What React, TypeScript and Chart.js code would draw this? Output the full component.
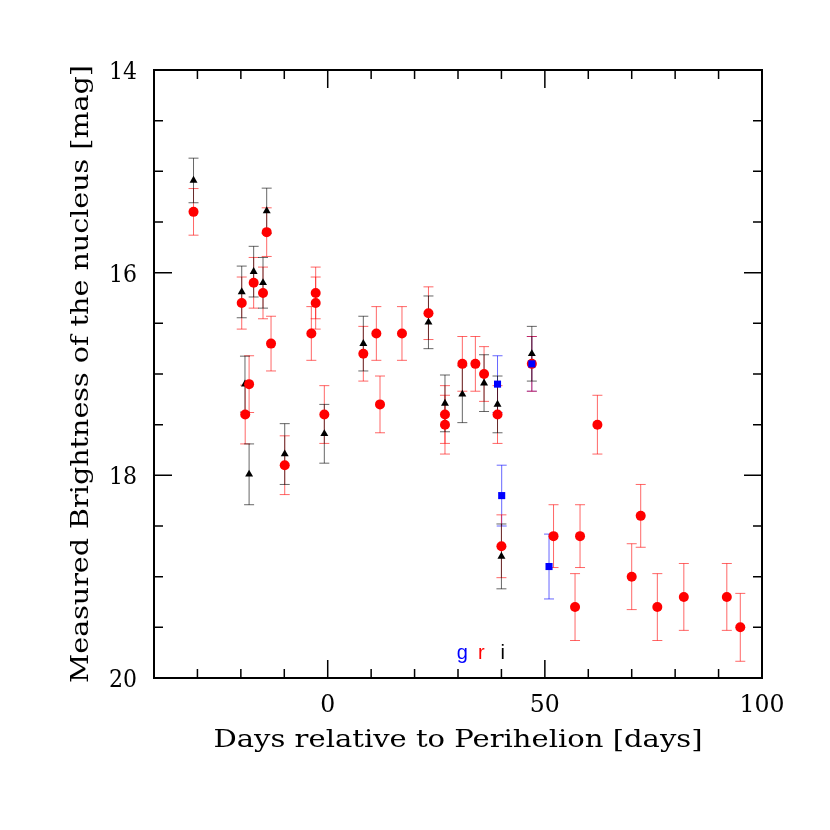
import React, { useEffect, useRef } from 'react';
import { Chart, registerables } from 'chart.js';

Chart.register(...registerables);

// i-band (black triangles)
const iDays = [-30.9, -14.05, -19.8, -17.05, -14.9, -19.05, -18.1, -9.9, -0.78, 8.2, 23.2, 27.0, 31.0, 36.0, 39.1, 47.0, 40.0];
const iMag = [15.09, 15.39, 16.19, 15.99, 16.10, 17.10, 17.99, 17.79, 17.59, 16.70, 16.49, 17.29, 17.20, 17.09, 17.30, 16.80, 18.80];
const iErr = [0.22, 0.224, 0.255, 0.25, 0.25, 0.276, 0.30, 0.30, 0.29, 0.27, 0.26, 0.28, 0.28, 0.28, 0.28, 0.27, 0.32];

// r-band (red circles)
const rDays = [-30.9, -14.05, -19.8, -17.05, -14.9, -13.05, -18.1, -19.0, -9.9, -0.78, -2.77, -2.77, -3.77, 8.2, 11.2, 12.04, 17.1, 23.2, 27.0, 27.0, 31.0, 34.0, 36.0, 39.1, 47.0, 40.0, 52.0, 56.95, 58.1, 62.1, 70.0, 72.07, 75.9, 82.0, 91.9, 95.0];
const rMag = [15.40, 15.60, 16.30, 16.10, 16.20, 16.70, 17.10, 17.40, 17.90, 17.40, 16.20, 16.30, 16.60, 16.80, 16.60, 17.30, 16.60, 16.40, 17.40, 17.50, 16.90, 16.90, 17.00, 17.40, 16.90, 18.70, 18.60, 19.30, 18.60, 17.50, 19.00, 18.40, 19.30, 19.20, 19.20, 19.50];
const rErr = [0.23, 0.24, 0.257, 0.25, 0.255, 0.27, 0.28, 0.29, 0.29, 0.285, 0.255, 0.257, 0.265, 0.27, 0.265, 0.28, 0.265, 0.26, 0.285, 0.29, 0.27, 0.27, 0.27, 0.285, 0.27, 0.31, 0.31, 0.33, 0.31, 0.29, 0.325, 0.31, 0.33, 0.33, 0.33, 0.335];

// g-band (blue squares)
const gDays = [39.1, 47.0, 40.06, 50.96];
const gMag = [17.10, 16.90, 18.20, 18.90];
const gErr = [0.28, 0.27, 0.30, 0.32];

const xMajorTicks = [0, 50, 100];
const xMinorTicks = [-30, -20, -10, 10, 20, 30, 40, 60, 70, 80, 90];
const yMajorTicks = [14, 16, 18, 20];
const yMinorTicks = [14.5, 15, 15.5, 16.5, 17, 17.5, 18.5, 19, 19.5];

const bandLabels = ['g', 'r', 'i'];
const bandLabelDays = [31.0, 35.4, 40.3];
const bandLabelMag = 19.81;
const bandColors = ['#0000ff', '#ff0000', '#000000'];

const xTitle = 'Days relative to Perihelion [days]';
const yTitle = 'Measured Brightness of the nucleus [mag]';

const FONT = '"DejaVu Serif", serif';

function toPts(xs: number[], ys: number[]) {
  return xs.map((x, i) => ({ x, y: ys[i] }));
}

// draws text; if fitWidth given, scales horizontally to that width
function drawText(ctx: CanvasRenderingContext2D, text: string, x: number, y: number, size: number, align: CanvasTextAlign, rot = 0, fitWidth = 0) {
  ctx.save();
  ctx.translate(x, y);
  if (rot) ctx.rotate(rot);
  ctx.font = `${size}px ${FONT}`;
  if (fitWidth) {
    const w = ctx.measureText(text).width;
    ctx.scale(fitWidth / w, 1);
  }
  ctx.textAlign = align;
  ctx.textBaseline = 'alphabetic';
  ctx.fillStyle = '#000';
  ctx.fillText(text, 0, 0);
  ctx.restore();
}

const errorBarPlugin = {
  id: 'errorBars',
  beforeDatasetsDraw(chart: any) {
    const ctx = chart.ctx;
    const yScale = chart.scales.y;
    chart.data.datasets.forEach((ds: any, di: number) => {
      const meta = chart.getDatasetMeta(di);
      ctx.save();
      ctx.strokeStyle = ds.errColor;
      ctx.lineWidth = 1;
      meta.data.forEach((pt: any, i: number) => {
        const v = ds.data[i].y;
        const e = ds.errors[i];
        const x = pt.x;
        const y1 = yScale.getPixelForValue(v - e);
        const y2 = yScale.getPixelForValue(v + e);
        ctx.beginPath();
        ctx.moveTo(x, y1);
        ctx.lineTo(x, y2);
        ctx.moveTo(x - 5, y1);
        ctx.lineTo(x + 5, y1);
        ctx.moveTo(x - 5, y2);
        ctx.lineTo(x + 5, y2);
        ctx.stroke();
      });
      ctx.restore();
    });
  },
};

const framePlugin = {
  id: 'frame',
  afterDatasetsDraw(chart: any) {
    const ctx = chart.ctx;
    const { left, right, top, bottom } = chart.chartArea;
    const xs = chart.scales.x;
    const ys = chart.scales.y;
    ctx.save();
    ctx.strokeStyle = '#000';
    ctx.lineWidth = 2;
    ctx.strokeRect(left, top, right - left, bottom - top);
    ctx.lineWidth = 1.5;
    ctx.beginPath();
    const xt = (v: number, len: number) => {
      const p = xs.getPixelForValue(v);
      ctx.moveTo(p, bottom);
      ctx.lineTo(p, bottom - len);
      ctx.moveTo(p, top);
      ctx.lineTo(p, top + len);
    };
    const yt = (v: number, len: number) => {
      const p = ys.getPixelForValue(v);
      ctx.moveTo(left, p);
      ctx.lineTo(left + len, p);
      ctx.moveTo(right, p);
      ctx.lineTo(right - len, p);
    };
    xMajorTicks.forEach((v) => xt(v, 18));
    xMinorTicks.forEach((v) => xt(v, 9));
    yMajorTicks.forEach((v) => yt(v, 18));
    yMinorTicks.forEach((v) => yt(v, 9));
    ctx.stroke();
    ctx.restore();

    // tick labels
    xMajorTicks.forEach((v) => {
      const s = String(v);
      drawText(ctx, s, xs.getPixelForValue(v), bottom + 34, 24, 'center', 0, s.length * 15);
    });
    yMajorTicks.forEach((v) => {
      const s = String(v);
      drawText(ctx, s, left - 17, ys.getPixelForValue(v) + 9, 24, 'right', 0, s.length * 14);
    });
    // titles
    drawText(ctx, xTitle, (left + right) / 2, bottom + 69, 23.5, 'center', 0, 489);
    drawText(ctx, yTitle, 88, (top + bottom) / 2, 25, 'center', -Math.PI / 2, 618);

    // band labels
    ctx.save();
    ctx.font = '20px "Liberation Sans", Arial, sans-serif';
    ctx.textAlign = 'center';
    ctx.textBaseline = 'alphabetic';
    bandLabels.forEach((t, i) => {
      ctx.fillStyle = bandColors[i];
      ctx.fillText(t, xs.getPixelForValue(bandLabelDays[i]), ys.getPixelForValue(bandLabelMag));
    });
    ctx.restore();
  },
};

export default function App() {
  const ref = useRef<HTMLCanvasElement | null>(null);
  useEffect(() => {
    if (!ref.current) return;
    const chart = new Chart(ref.current, {
      type: 'scatter',
      data: {
        datasets: [
          {
            label: 'g',
            data: toPts(gDays, gMag),
            pointStyle: 'rect',
            pointRadius: 5,
            backgroundColor: '#0000ff',
            borderWidth: 0,
            errors: gErr,
            errColor: 'rgba(0,0,255,0.6)',
          } as any,
          {
            label: 'r',
            data: toPts(rDays, rMag),
            pointStyle: 'circle',
            pointRadius: 5,
            backgroundColor: '#ff0000',
            borderWidth: 0,
            errors: rErr,
            errColor: 'rgba(255,0,0,0.6)',
          } as any,
          {
            label: 'i',
            data: toPts(iDays, iMag),
            pointStyle: 'triangle',
            pointRadius: 4.6,
            backgroundColor: '#000000',
            borderWidth: 0,
            errors: iErr,
            errColor: 'rgba(0,0,0,0.6)',
          } as any,
        ],
      },
      options: {
        animation: false,
        responsive: false,
        maintainAspectRatio: false,
        layout: { padding: { left: 154, right: 68, top: 70, bottom: 152 } },
        plugins: { legend: { display: false }, tooltip: { enabled: false } },
        scales: {
          x: {
            type: 'linear',
            min: -40,
            max: 100,
            grid: { display: false },
            border: { display: false },
            ticks: { display: false },
            afterFit: (s: any) => { s.height = 0; },
          },
          y: {
            type: 'linear',
            min: 14,
            max: 20,
            reverse: true,
            grid: { display: false },
            border: { display: false },
            ticks: { display: false },
            afterFit: (s: any) => { s.width = 0; },
          },
        },
      },
      plugins: [errorBarPlugin, framePlugin],
    });
    return () => chart.destroy();
  }, []);
  return (
    <div style={{ position: 'fixed', left: 0, top: 0, width: 830, height: 830, background: '#fff' }}>
      <canvas ref={ref} width={830} height={830} style={{ width: 830, height: 830 }} />
    </div>
  );
}
